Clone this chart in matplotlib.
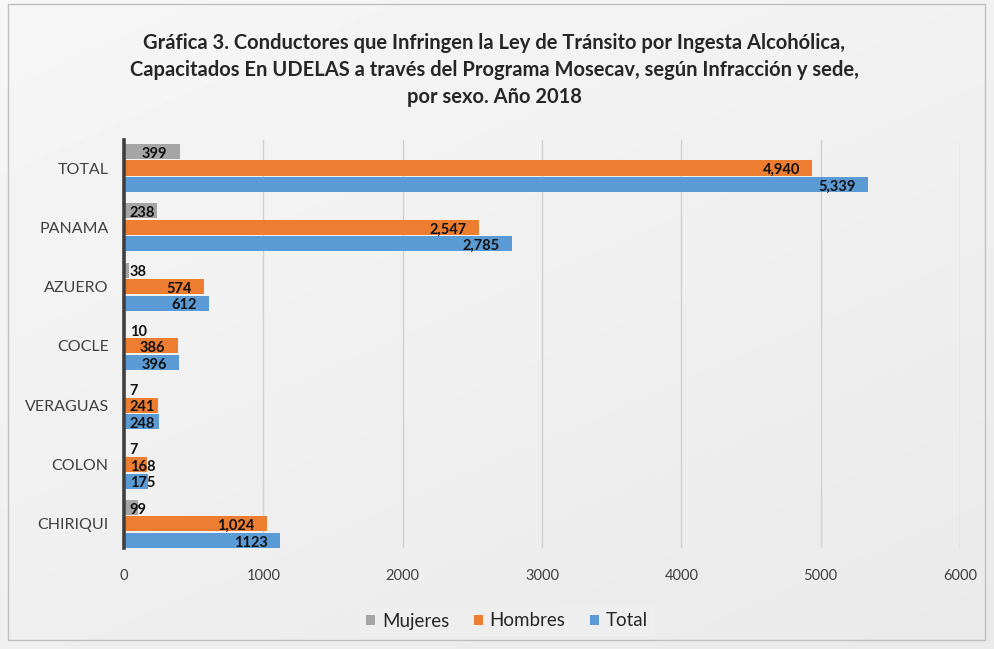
import matplotlib
matplotlib.use("Agg")
import matplotlib.pyplot as plt
import numpy as np
from matplotlib.patches import Patch, Rectangle

plt.rcParams['font.family'] = ['Lato', 'DejaVu Sans']

categories = ["TOTAL", "PANAMA", "AZUERO", "COCLE", "VERAGUAS", "COLON", "CHIRIQUI"]
mujeres = [399, 238, 38, 10, 7, 7, 99]
hombres = [4940, 2547, 574, 386, 241, 168, 1024]
total = [5339, 2785, 612, 396, 248, 175, 1123]
mujeres_lbl = ["399", "238", "38", "10", "7", "7", "99"]
hombres_lbl = ["4,940", "2,547", "574", "386", "241", "168", "1,024"]
total_lbl = ["5,339", "2,785", "612", "396", "248", "175", "1123"]
series_names = ["Mujeres", "Hombres", "Total"]
xticks = [0, 1000, 2000, 3000, 4000, 5000, 6000]
title = ("Gráfica 3. Conductores que Infringen la Ley de Tránsito por Ingesta Alcohólica,\n"
         "Capacitados En UDELAS a través del Programa Mosecav, según Infracción y sede,\n"
         "por sexo. Año 2018")

colors = ["#a5a5a5", "#ed7d31", "#5b9bd5"]

W, H = 994, 649
fig = plt.figure(figsize=(W / 100, H / 100), dpi=100)

# background gradient
bg = fig.add_axes([0, 0, 1, 1], zorder=-10)
yy = np.linspace(0, 1, 200)[:, None]
xx = np.linspace(0, 1, 200)[None, :]
grad = 0.965 - 0.05 * (0.6 * yy + 0.4 * xx)
bg.imshow(grad, cmap='gray', vmin=0, vmax=1, aspect='auto', extent=[0, 1, 0, 1], origin='upper')
bg.set_axis_off()

# outer border
fig.patches.append(Rectangle((8 / W, 1 - 640 / H), (985 - 8) / W, (640 - 4) / H,
                             transform=fig.transFigure, fill=False, edgecolor='#bfbfbf', lw=1))

left, right, top, bottom = 124, 960, 140, 548
ax = fig.add_axes([left / W, 1 - bottom / H, (right - left) / W, (bottom - top) / H])
ax.patch.set_alpha(0)

y = np.arange(len(categories))
off = 0.278
h = 0.253
ppx = (right - left) / 6000.0  # px per data unit

for vals, lbls, col, dy in [(mujeres, mujeres_lbl, colors[0], -off),
                            (hombres, hombres_lbl, colors[1], 0),
                            (total, total_lbl, colors[2], off)]:
    ax.barh(y + dy, vals, height=h, color=col, zorder=3)
    for yi, v, l in zip(y, vals, lbls):
        tw = len(l) * 9 + 14
        if v * ppx > tw:
            ax.annotate(l, (v, yi + dy), xytext=(-9, -1.5), textcoords='offset points',
                        ha='right', va='center', fontsize=10.5, fontweight='bold', color='#111111', zorder=4)
        else:
            ax.annotate(l, (0, yi + dy), xytext=(4, -1.5), textcoords='offset points',
                        ha='left', va='center', fontsize=10.5, fontweight='bold', color='#111111', zorder=4)

ax.set_xlim(0, 6000)
ax.set_ylim(6.405, -0.472)
ax.set_xticks(xticks)
ax.set_xticklabels([str(t) for t in xticks], fontsize=10.5, color='#404040')
ax.set_yticks(y)
ax.set_yticklabels(categories, fontsize=11.5, color='#404040')
ax.tick_params(axis='both', length=0)
ax.tick_params(axis='x', pad=15)
ax.tick_params(axis='y', pad=11)
ax.grid(axis='x', color='#d0d0d0', lw=1, zorder=0)
for s in ['top', 'right', 'bottom']:
    ax.spines[s].set_visible(False)
ax.spines['left'].set_color('#3f3f3f')
ax.spines['left'].set_linewidth(2.6)
ax.spines['left'].set_zorder(5)

fig.text(0.497, 1 - 33 / H, title, ha='center', va='top', fontsize=14.5, fontweight='bold',
         color='#262626', linespacing=1.45)

handles = [Patch(facecolor=c, edgecolor='none') for c in colors]
leg = fig.legend(handles, series_names, loc='center', bbox_to_anchor=(507 / W, 1 - 621 / H),
                 ncol=3, frameon=True, fontsize=13.5, handlelength=0.5, handleheight=0.5,
                 handletextpad=0.35, columnspacing=1.3, borderpad=0.35)
leg.get_frame().set_facecolor('#efefef')
leg.get_frame().set_edgecolor('none')
leg.get_frame().set_alpha(0.9)
for t in leg.get_texts():
    t.set_color('#262626')

fig.savefig("out.png", dpi=100)
